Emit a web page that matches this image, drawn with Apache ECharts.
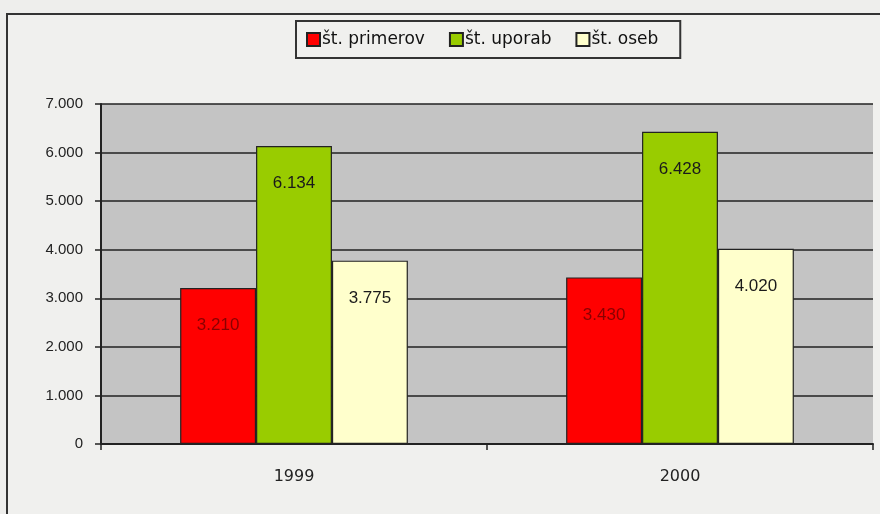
<!DOCTYPE html>
<html><head><meta charset="utf-8">
<script src="https://cdn.jsdelivr.net/npm/echarts@6/dist/echarts.min.js"></script>
<style>html,body{margin:0;padding:0;background:#eeeeec;}#c{width:880px;height:514px;}</style>
</head><body><div id="c"></div>
<script>
const categories = ['1999', '2000'];
const seriesNames = ['št. primerov', 'št. uporab', 'št. oseb'];
const primerov = [3210, 3430];
const uporab = [6134, 6428];
const oseb = [3775, 4020];
const yTicks = [0, 1000, 2000, 3000, 4000, 5000, 6000, 7000];

function fmt(v){ return String(v).replace(/\B(?=(\d{3})+(?!\d))/g, '.'); }

const colors = ['#ff0000', '#99cc00', '#ffffcc'];
const labelColors = ['#8a0000', '#1a1a1a', '#1a1a1a'];
const values = [primerov, uporab, oseb];

const chart = echarts.init(document.getElementById('c'));
chart.setOption({
  animation: false,
  backgroundColor: '#eeeeec',
  graphic: [{
    type: 'rect', shape: {x: 7, y: 14, width: 900, height: 520},
    style: {fill: '#f0f0ee', stroke: '#333', lineWidth: 2}, z: -10
  }],
  legend: {
    top: 21, left: 296,
    data: seriesNames,
    itemWidth: 13, itemHeight: 13, itemGap: 24,
    backgroundColor: '#f0f0ee', borderColor: '#333', borderWidth: 2,
    padding: [10, 22, 10, 10],
    textStyle: {fontFamily: 'DejaVu Sans', fontSize: 17, color: '#111', padding: [0, 0, 0, -3]},
    icon: 'rect'
  },
  grid: {left: 101, right: 7, top: 104, bottom: 70, show: true, backgroundColor: '#c4c4c4', borderWidth: 0},
  xAxis: {
    type: 'category', data: categories,
    axisLine: {lineStyle: {color: '#222', width: 2}},
    axisTick: {show: true, length: 6, lineStyle: {color: '#222', width: 1.5}},
    axisLabel: {fontFamily: 'DejaVu Sans', fontSize: 16, color: '#222', margin: 25}
  },
  yAxis: {
    type: 'value', min: 0, max: 7000, interval: 1000,
    axisLine: {show: true, lineStyle: {color: '#222', width: 2}},
    axisTick: {show: true, length: 6, lineStyle: {color: '#222', width: 1.5}},
    splitLine: {lineStyle: {color: '#222', width: 1.5}},
    axisLabel: {fontFamily: 'Liberation Sans', fontSize: 15, color: '#222', margin: 18,
      formatter: v => fmt(v)}
  },
  series: seriesNames.map((n, i) => ({
    name: n, type: 'bar', data: values[i],
    barGap: '0%', barCategoryGap: '41%',
    itemStyle: {color: colors[i], borderColor: '#222', borderWidth: 1.2},
    label: {show: true, position: 'insideTop', distance: 29,
      fontFamily: 'Liberation Sans', fontSize: 17, color: labelColors[i],
      formatter: p => fmt(p.value)}
  }))
});
</script></body></html>
